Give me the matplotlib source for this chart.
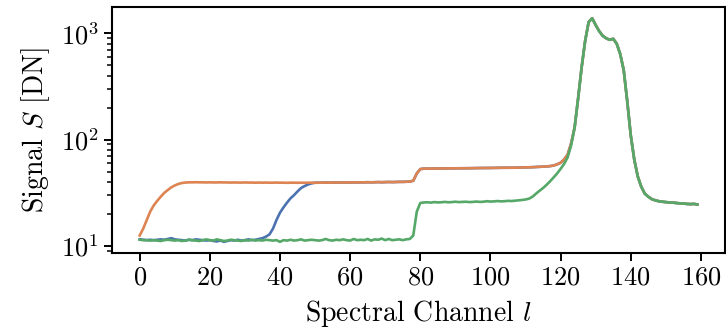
import numpy as np
import matplotlib
matplotlib.use("Agg")
import matplotlib.pyplot as plt

plt.rcParams['font.family'] = 'serif'
plt.rcParams['font.serif'] = ['cmr10']
plt.rcParams['mathtext.fontset'] = 'cm'
plt.rcParams['axes.unicode_minus'] = False
plt.rcParams['axes.formatter.use_mathtext'] = True

# spectral channels
channel = np.arange(160)

# orange curve
orange = [12.5, 14.5, 17.5, 21.0, 24.0, 26.5, 29.0, 31.5, 33.5, 35.5,
          37.0, 38.2, 39.0, 39.4, 39.6, 39.6, 39.7, 39.6, 39.6, 39.5,
          39.6, 39.5, 39.5, 39.6, 39.5, 39.5, 39.4, 39.5, 39.4, 39.4,
          39.5, 39.4, 39.4, 39.3, 39.4, 39.3, 39.4, 39.3, 39.3, 39.4,
          39.3, 39.3, 39.2, 39.3, 39.3, 39.2, 39.3, 39.2, 39.3, 39.3,
          39.2, 39.3, 39.3, 39.4, 39.3, 39.4, 39.4, 39.5, 39.4, 39.5,
          39.5, 39.6, 39.5, 39.6, 39.6, 39.7, 39.6, 39.7, 39.8, 39.7,
          39.8, 39.9, 39.8, 39.9, 40.0, 40.0, 40.1, 40.3, 41.0, 48.0,
          52.8, 53.3, 53.3, 53.4, 53.4, 53.5, 53.5, 53.5, 53.6, 53.6,
          53.7, 53.7, 53.7, 53.8, 53.8, 53.9, 53.9, 54.0, 54.0, 54.1,
          54.1, 54.2, 54.2, 54.3, 54.3, 54.4, 54.4, 54.4, 54.5, 54.6,
          54.7, 54.9, 55.0, 55.2, 55.4, 55.6, 55.9, 56.3, 57.0, 58.5,
          60.5, 65.0, 72.0, 92.0, 130.0, 245.0, 480.0, 850.0, 1280.0, 1390.0,
          1200.0, 1050.0, 950.0, 900.0, 870.0, 890.0, 800.0, 640.0, 450.0, 230.0,
          110.0, 65.0, 45.0, 36.0, 31.0, 29.0, 27.5, 26.8, 26.3, 26.0,
          25.8, 25.6, 25.5, 25.3, 25.1, 25.0, 24.8, 24.7, 24.8, 24.5]

# blue curve: noisy floor, rise near channel 37, then follows orange
blue_head = [11.5, 11.4, 11.3, 11.4, 11.3, 11.4, 11.5, 11.4, 11.6, 11.8,
             11.5, 11.4, 11.3, 11.2, 11.4, 11.3, 11.5, 11.4, 11.3, 11.2,
             11.3, 11.1, 11.0, 11.2, 10.9, 11.1, 11.3, 11.2, 11.4, 11.2,
             11.3, 11.5, 11.3, 11.4, 11.6, 11.8, 12.2, 12.8, 14.5, 17.5,
             20.5, 23.0, 25.5, 28.0, 30.0, 32.5, 35.0, 36.5, 37.8, 38.7,
             39.3]
blue = blue_head + orange[len(blue_head):]

# green curve: floor, step at 79, slow rise, then follows orange
green_head = [11.4, 11.3, 11.3, 11.2, 11.3, 11.2, 11.1, 11.3, 11.4, 11.3,
              11.2, 11.3, 11.1, 11.2, 11.4, 11.3, 11.2, 11.1, 11.3, 11.5,
              11.3, 11.2, 11.5, 11.3, 11.1, 11.2, 11.4, 11.3, 11.2, 11.1,
              11.3, 11.2, 11.4, 11.2, 11.3, 11.2, 11.4, 11.3, 11.2, 11.3,
              10.9, 11.3, 11.2, 11.4, 11.2, 11.3, 11.5, 11.2, 11.3, 11.4,
              11.3, 11.2, 11.3, 11.6, 11.3, 11.2, 11.4, 11.3, 11.5, 11.3,
              11.2, 11.6, 11.3, 11.4, 11.3, 11.6, 11.2, 11.5, 11.4, 11.7,
              11.3, 11.6, 11.3, 11.4, 11.5, 11.3, 11.5, 11.6, 12.5, 21.0,
              25.3, 25.6, 25.7, 25.5, 25.8, 25.6, 25.7, 25.9, 25.7, 25.8,
              26.0, 25.8, 25.9, 26.0, 25.8, 25.9, 26.1, 25.9, 26.0, 26.3,
              26.1, 26.2, 26.4, 26.2, 26.3, 26.5, 26.4, 26.6, 26.8, 27.0,
              27.3, 27.8, 29.0, 31.0, 33.0, 35.0, 37.5, 40.5, 44.0, 48.0,
              53.0, 59.0, 68.0, 88.0]
green = green_head + orange[len(green_head):]

fig = plt.figure(figsize=(7.26, 3.36), dpi=100)
ax = fig.add_axes([0.154, 0.247, 0.845, 0.732])

ax.plot(channel, blue, color='#4C72B0', lw=1.9)
ax.plot(channel, orange, color='#DD8452', lw=1.9)
ax.plot(channel, green, color='#55A868', lw=1.9)

ax.set_yscale('log')
ax.set_xticks([0, 20, 40, 60, 80, 100, 120, 140, 160])
ax.set_xlabel('Spectral Channel $l$', fontsize=20, labelpad=6)
ax.set_ylabel('Signal $S$ [DN]', fontsize=20, labelpad=6)
ax.tick_params(labelsize=19, width=1.4, length=6)
ax.tick_params(which='minor', width=1.1, length=3.5)
for s in ax.spines.values():
    s.set_linewidth(1.5)

fig.savefig('out.png', dpi=100)
